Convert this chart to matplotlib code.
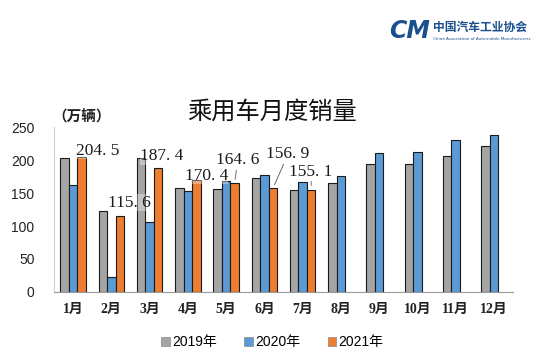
import matplotlib
matplotlib.use("Agg")
import matplotlib.pyplot as plt
import numpy as np

plt.rcParams['font.family'] = ['Noto Sans CJK SC', 'DejaVu Sans']

months = ["1月", "2月", "3月", "4月", "5月", "6月", "7月", "8月", "9月", "10月", "11月", "12月"]
series_names = ["2019年", "2020年", "2021年"]
sales_2019 = [203.6, 122.7, 203.6, 158.0, 156.5, 173.5, 154.0, 165.6, 194.4, 194.4, 206.6, 221.7]
sales_2020 = [161.7, 22.7, 105.6, 153.5, 167.7, 177.5, 166.2, 175.9, 210.0, 212.5, 230.3, 238.3]
sales_2021 = [204.5, 115.6, 187.4, 170.4, 164.6, 156.9, 155.1, None, None, None, None, None]
y_ticks = [0, 50, 100, 150, 200, 250]

colors = ["#A5A5A5", "#5B9BD5", "#ED7D31"]

fig = plt.figure(figsize=(5.5, 3.6), dpi=100)
ax = fig.add_axes([0.098, 0.189, 0.835, 0.458])

x = np.arange(len(months))
w = 0.222
all_series = [sales_2019, sales_2020, sales_2021]
bars = []
for k, (vals, c, name) in enumerate(zip(all_series, colors, series_names)):
    v = np.array([np.nan if a is None else a for a in vals], dtype=float)
    b = ax.bar(x + (k - 1) * w, v, width=w, color=c, edgecolor="#1a1a1a",
               linewidth=0.8, label=name, zorder=2)
    bars.append(b)

ax.set_xlim(-0.5, 11.5)
ax.set_ylim(0, 250)
ax.set_yticks(y_ticks)
ax.set_yticklabels([str(t) for t in y_ticks], family="Liberation Sans",
                   fontsize=10, color="#222222")
ax.set_xticks(x)
ax.set_xticklabels(months, family=["Liberation Serif", "Noto Sans CJK SC"],
                   fontsize=10, fontweight="bold", color="#222222")
ax.tick_params(axis="both", length=0)
ax.tick_params(axis="y", pad=14)
ax.tick_params(axis="x", pad=8)
for s in ["top", "right"]:
    ax.spines[s].set_visible(False)
ax.spines["left"].set_color("#D0D0D0")
ax.spines["left"].set_linewidth(0.8)
ax.spines["bottom"].set_color("#9A9A9A")
ax.spines["bottom"].set_linewidth(0.8)

# data labels for 2021 (offsets in pixels from the bar top)
offsets = [(16, 6), (10, 13), (4, 12), (10, 4), (3, 23), (15, 34), (0, 18)]
leader = [False, False, False, False, True, True, True]
for i in range(len(offsets)):
    xb = x[i] + w
    yb = sales_2021[i]
    kw = {}
    if leader[i]:
        kw["arrowprops"] = dict(arrowstyle="-", color="#555555", lw=0.6,
                                shrinkA=1, shrinkB=3)
    ax.annotate(f"{yb:.1f}".replace(".", ". "), xy=(xb, yb), xytext=offsets[i],
                textcoords="offset pixels",
                ha="center", va="center", family="Liberation Serif", fontsize=12.5,
                color="#1a1a1a", zorder=5,
                bbox=dict(boxstyle="square,pad=0.02", fc="white", ec="none", alpha=0.35),
                **kw)

# title and unit
fig.text(0.495, 0.69, "乘用车月度销量", ha="center", va="center", fontsize=17.5,
         color="#111111")
fig.text(0.095, 0.675, "（万辆）", ha="left", va="center", fontsize=10.5,
         fontweight="bold", color="#222222")

# legend
leg = fig.legend(handles=bars, labels=series_names, loc="center",
                 bbox_to_anchor=(0.495, 0.05), ncol=3, frameon=False,
                 handlelength=0.6, handleheight=0.6, handletextpad=0.15,
                 columnspacing=2.0, prop={"family": ["Liberation Sans", "Noto Sans CJK SC"], "size": 10})
for h in leg.legend_handles:
    h.set_edgecolor("#888888")
    h.set_linewidth(0.5)

# logo
logo_c = "#1B4F8C"
fig.text(0.745, 0.915, "CM", ha="center", va="center", fontsize=17,
         fontweight="bold", style="italic", color=logo_c, family="DejaVu Sans")
fig.text(0.787, 0.925, "中国汽车工业协会", ha="left", va="center", fontsize=8.5,
         fontweight="bold", color=logo_c)
fig.text(0.787, 0.893, "China Association of Automobile Manufacturers", ha="left",
         va="center", fontsize=3, color=logo_c, family="DejaVu Sans")

fig.savefig("out.png", dpi=100, facecolor="white")
